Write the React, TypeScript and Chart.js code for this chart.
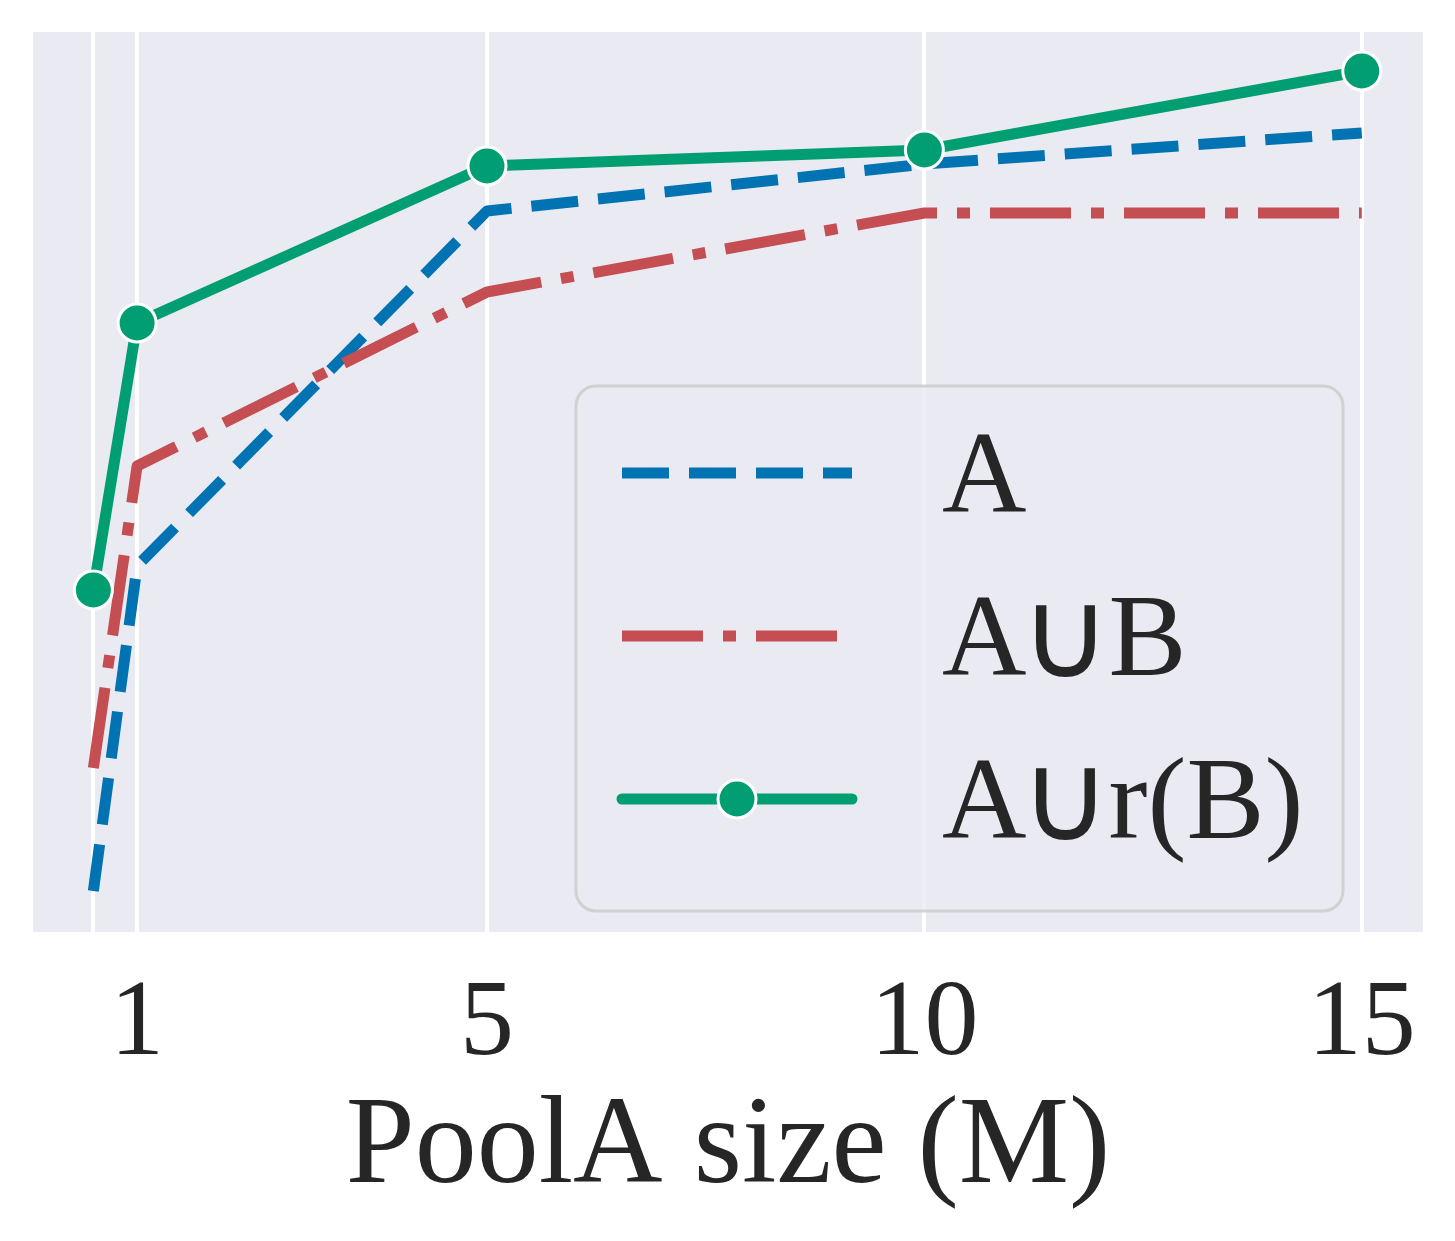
import React, { useEffect, useRef } from "react";
import { Chart, registerables } from "chart.js";

Chart.register(...registerables);

// ---- data ----
const POOL_SIZES = [0.5, 1, 5, 10, 15];
const X_TICKS = [0.5, 1, 5, 10, 15];
const X_TICK_LABELS = ["", "1", "5", "10", "15"];
const SERIES_A = [4.1, 36.6, 72.1, 76.8, 79.9];
const SERIES_AUB = [16.4, 46.6, 64.0, 71.9, 71.9];
const SERIES_AURB = [34.2, 60.9, 76.6, 78.2, 86.1];
const LABELS = ["A", "A\u222AB", "A\u222Ar(B)"];
// legend labels split into pieces so the union sign can use a symbol font
const LABEL_PARTS = [["A"], ["A", "\u222A", "B"], ["A", "\u222A", "r(B)"]];
const X_TITLE = "PoolA size (M)";

const BLUE = "#0173B2";
const RED = "#C44E52";
const GREEN = "#029E73";
const BG = "#EAEAF2";
const TEXT = "#262626";
const SERIF = "'Liberation Serif', 'Times New Roman', 'DejaVu Serif', serif";
const SYMBOL = "'DejaVu Sans', sans-serif";

const LW = 11;
const BLUE_DASH = [47, 20];
const RED_DASH = [81, 20, 13, 20];

const bgPlugin = {
  id: "bgPlugin",
  beforeDraw(chart: any) {
    const { ctx, chartArea } = chart;
    ctx.save();
    ctx.fillStyle = "#ffffff";
    ctx.fillRect(0, 0, chart.width, chart.height);
    ctx.fillStyle = BG;
    ctx.fillRect(chartArea.left, chartArea.top, chartArea.right - chartArea.left, chartArea.bottom - chartArea.top);
    ctx.restore();
  },
};

function roundRect(ctx: CanvasRenderingContext2D, x: number, y: number, w: number, h: number, r: number) {
  ctx.beginPath();
  ctx.moveTo(x + r, y);
  ctx.lineTo(x + w - r, y);
  ctx.arcTo(x + w, y, x + w, y + r, r);
  ctx.lineTo(x + w, y + h - r);
  ctx.arcTo(x + w, y + h, x + w - r, y + h, r);
  ctx.lineTo(x + r, y + h);
  ctx.arcTo(x, y + h, x, y + h - r, r);
  ctx.lineTo(x, y + r);
  ctx.arcTo(x, y, x + r, y, r);
  ctx.closePath();
}

const legendPlugin = {
  id: "customLegend",
  afterDraw(chart: any) {
    const ctx: CanvasRenderingContext2D = chart.ctx;
    ctx.save();
    roundRect(ctx, 576, 386, 767, 525, 20);
    ctx.fillStyle = "rgba(234,234,242,0.8)";
    ctx.fill();
    ctx.lineWidth = 3;
    ctx.strokeStyle = "rgba(204,204,204,0.85)";
    ctx.stroke();

    const x0 = 622;
    const x1 = 852;
    const styles = [
      { color: BLUE, dash: BLUE_DASH, cap: "butt", marker: false },
      { color: RED, dash: RED_DASH, cap: "butt", marker: false },
      { color: GREEN, dash: [] as number[], cap: "round", marker: true },
    ];
    for (let i = 0; i < LABEL_PARTS.length; i++) {
      const base = 512 + 163 * i;
      const ly = base - 39;
      const s = styles[i];
      ctx.beginPath();
      ctx.setLineDash(s.dash);
      ctx.lineCap = s.cap as CanvasLineCap;
      ctx.lineWidth = LW;
      ctx.strokeStyle = s.color;
      ctx.moveTo(x0, ly);
      ctx.lineTo(x1, ly);
      ctx.stroke();
      ctx.setLineDash([]);
      if (s.marker) {
        ctx.beginPath();
        ctx.arc((x0 + x1) / 2, ly, 19, 0, Math.PI * 2);
        ctx.fillStyle = GREEN;
        ctx.fill();
        ctx.lineWidth = 3;
        ctx.strokeStyle = "#ffffff";
        ctx.stroke();
      }
      ctx.fillStyle = TEXT;
      ctx.textBaseline = "alphabetic";
      let x = 942;
      for (const part of LABEL_PARTS[i]) {
        if (part === "\u222A") {
          ctx.font = `124px ${SYMBOL}`;
          ctx.textAlign = "center";
          ctx.fillText(part, x + 39, base + 2);
          x += 82;
        } else {
          ctx.font = `117px ${SERIF}`;
          ctx.textAlign = "left";
          ctx.fillText(part, x, base);
          x += ctx.measureText(part).width;
        }
      }
    }
    ctx.restore();
  },
};

export default function App() {
  const canvasRef = useRef<HTMLCanvasElement | null>(null);

  useEffect(() => {
    if (!canvasRef.current) return;
    const toPts = (ys: number[]) => POOL_SIZES.map((x, i) => ({ x, y: ys[i] }));
    const chart = new Chart(canvasRef.current, {
      type: "line",
      data: {
        datasets: [
          {
            label: LABELS[0],
            data: toPts(SERIES_A),
            borderColor: BLUE,
            borderWidth: LW,
            borderDash: BLUE_DASH,
            borderCapStyle: "butt",
            borderJoinStyle: "round",
            pointRadius: 0,
            tension: 0,
            order: 2,
          },
          {
            label: LABELS[1],
            data: toPts(SERIES_AUB),
            borderColor: RED,
            borderWidth: LW,
            borderDash: RED_DASH,
            borderCapStyle: "butt",
            borderJoinStyle: "round",
            pointRadius: 0,
            tension: 0,
            order: 1,
          },
          {
            label: LABELS[2],
            data: toPts(SERIES_AURB),
            borderColor: GREEN,
            borderWidth: LW,
            borderCapStyle: "round",
            borderJoinStyle: "round",
            pointRadius: 19,
            pointBackgroundColor: GREEN,
            pointBorderColor: "#ffffff",
            pointBorderWidth: 3,
            tension: 0,
            order: 0,
          },
        ],
      },
      options: {
        animation: false,
        responsive: false,
        devicePixelRatio: 1,
        layout: { padding: { left: 33, right: 32, top: 32, bottom: 0 } },
        plugins: {
          legend: { display: false },
          tooltip: { enabled: false },
        },
        scales: {
          x: {
            type: "linear",
            min: -0.19,
            max: 15.7,
            afterBuildTicks: (scale: any) => {
              scale.ticks = X_TICKS.map((v) => ({ value: v }));
            },
            afterFit: (scale: any) => {
              scale.height = 309;
            },
            ticks: {
              autoSkip: false,
              maxRotation: 0,
              padding: 29,
              color: TEXT,
              font: { family: SERIF, size: 108 },
              callback: (value: any) => {
                const idx = X_TICKS.indexOf(Number(value));
                return idx >= 0 ? X_TICK_LABELS[idx] : "";
              },
            },
            grid: { color: "#ffffff", lineWidth: 4, drawTicks: false },
            border: { display: false },
            title: {
              display: true,
              text: X_TITLE,
              color: TEXT,
              font: { family: SERIF, size: 124 },
              padding: { top: 0, bottom: 17 },
            },
          },
          y: {
            type: "linear",
            display: false,
            min: 0,
            max: 90,
            grid: { display: false },
          },
        },
      },
      plugins: [bgPlugin, legendPlugin],
    } as any);
    return () => chart.destroy();
  }, []);

  return (
    <div style={{ position: "absolute", left: 0, top: 0, width: 1455, height: 1241, background: "#fff" }}>
      <canvas ref={canvasRef} width={1455} height={1241} style={{ width: 1455, height: 1241, display: "block" }} />
    </div>
  );
}
